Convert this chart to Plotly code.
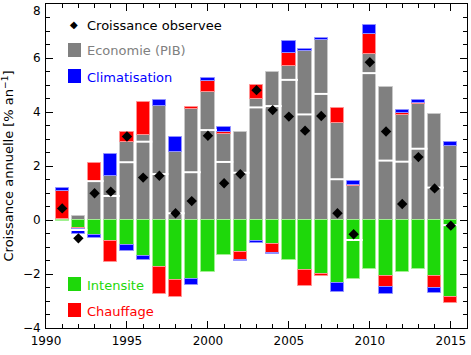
import plotly.graph_objects as go

years = list(range(1991, 2016))
economie = [0.05, 0.15, 1.42, 1.64, 2.90, 3.15, 4.22, 2.53, 4.11, 4.74, 3.19, 3.26, 4.47,
            5.48, 5.72, 6.26, 6.65, 3.59, 1.25, 6.15, 4.94, 3.89, 4.28, 3.91, 2.74]
intensite = [-0.02, -0.28, -0.56, -0.77, -0.93, -1.32, -1.75, -2.23, -2.19, -1.94, -1.31, -1.17, -0.79,
             -0.88, -1.47, -1.84, -2.00, -2.35, -2.20, -1.80, -2.06, -1.93, -1.83, -2.07, -2.85]
chauffage = [1.02, -0.06, 0.68, -0.80, 0.35, 1.21, -1.00, -0.61, 0.06, 0.41, 0.07, -0.30, 0.52,
             -0.35, 0.47, -0.60, -0.09, 0.57, 0.05, 0.74, -0.43, 0.06, 0.07, -0.45, -0.24]
climatisation = [0.13, -0.18, -0.12, 0.80, -0.21, -0.16, 0.22, 0.53, -0.21, 0.11, 0.20, -0.06, -0.05,
                 -0.04, 0.43, 0.07, 0.09, -0.30, 0.14, 0.33, -0.26, 0.12, 0.09, -0.20, 0.14]
observee = [0.43, -0.68, 0.99, 1.05, 3.09, 1.57, 1.64, 0.25, 0.70, 3.12, 1.36, 1.70, 4.81,
            4.07, 3.83, 3.31, 3.85, 0.25, -0.53, 5.84, 3.28, 0.59, 2.33, 1.17, -0.21]
ligne_blanche = [None, -0.37, 1.44, 0.89, 2.14, 2.90, 1.70, 0.25, 1.77, 3.33, 2.15, 1.75, 4.17,
                 4.22, 5.19, 3.91, 4.67, 1.51, -0.74, 5.44, 2.20, 2.16, 2.64, 1.20, -0.19]
y_top_label = "8"
y_max = 8

FONT = "DejaVu Sans"
GRAY = "#808080"
GREEN = "#1ed80a"
RED = "#ff0000"
BLUE = "#0000ff"
W = 0.82

fig = go.Figure()
fig.add_trace(go.Bar(x=years, y=economie, width=W, marker=dict(color=GRAY, line=dict(color="#c8c8c8", width=1)), name="Economie (PIB)"))
fig.add_trace(go.Bar(x=years, y=intensite, width=W, marker=dict(color=GREEN, line=dict(color="#a0f090", width=1)), name="Intensite"))
fig.add_trace(go.Bar(x=years, y=chauffage, width=W, marker=dict(color=RED, line=dict(color="#ff9090", width=1)), name="Chauffage"))
fig.add_trace(go.Bar(x=years, y=climatisation, width=W, marker=dict(color=BLUE, line=dict(color="#9090ff", width=1)), name="Climatisation"))
fig.add_trace(go.Scatter(x=years, y=ligne_blanche, mode="markers",
                         marker=dict(symbol="line-ew", size=13, line=dict(color="white", width=2)),
                         name="ligne"))
fig.add_trace(go.Scatter(x=years, y=observee, mode="markers",
                         marker=dict(symbol="diamond", size=8, color="black"),
                         name="Croissance observee"))

x0, y0, pw, ph = 46, 4, 421, 324
def px(x):
    return (x - x0) / pw
def py(y):
    return (y0 + ph - y) / ph

legend_items = [
    ("Croissance observee", "black", None, 25),
    ("Economie (PIB)", GRAY, GRAY, 50),
    ("Climatisation", BLUE, BLUE, 76),
    ("Intensite", GREEN, GREEN, 284),
    ("Chauffage", RED, RED, 310),
]
annotations = []
shapes = []
for text, tcol, scol, yc in legend_items:
    annotations.append(dict(x=px(85), y=py(yc + 1), xref="paper", yref="paper", text=text,
                            showarrow=False, xanchor="left", yanchor="middle",
                            font=dict(family=FONT, size=13, color=tcol)))
    if scol is None:
        annotations.append(dict(x=px(74), y=py(yc), xref="paper", yref="paper", text="◆",
                                showarrow=False, xanchor="center", yanchor="middle",
                                font=dict(family=FONT, size=10, color="black")))
    else:
        shapes.append(dict(type="rect", xref="paper", yref="paper",
                           x0=px(68), x1=px(81), y0=py(yc + 7), y1=py(yc - 7),
                           fillcolor=scol, line=dict(width=0)))

# top tick label, nudged inside the page as in the reference
annotations.append(dict(x=0, y=y_max, xref="paper", yref="y", text=y_top_label, showarrow=False,
                        xanchor="right", yanchor="top", xshift=-3, yshift=2,
                        font=dict(family=FONT, size=12, color="black")))

axis_common = dict(showline=True, linecolor="black", linewidth=1, mirror="allticks",
                   ticks="inside", tickcolor="black", showgrid=False, zeroline=False,
                   automargin=False,
                   tickfont=dict(family=FONT, size=12, color="black"))

fig.update_layout(
    width=471, height=355,
    margin=dict(l=x0, r=471 - x0 - pw, t=y0, b=355 - y0 - ph),
    paper_bgcolor="white", plot_bgcolor="white",
    barmode="relative", bargap=0,
    showlegend=False,
    annotations=annotations, shapes=shapes,
    xaxis=dict(range=[1990, 2016], tickmode="linear", tick0=1990, dtick=5, ticklen=7,
               ticklabelstandoff=2,
               minor=dict(dtick=1, ticks="inside", ticklen=4, tickcolor="black"),
               **axis_common),
    yaxis=dict(range=[-4, y_max], tickmode="linear", tick0=0, dtick=2, ticklen=7,
               ticklabelstandoff=2,
               minor=dict(dtick=0.5, ticks="inside", ticklen=4, tickcolor="black"),
               title=dict(text="Croissance annuelle [% an<sup>−1</sup>]", standoff=6,
                          font=dict(family=FONT, size=13, color="black")),
               **axis_common),
)

fig.write_html("out.html", config={"displayModeBar": False},
               post_script="document.body.style.margin='0px';document.body.style.overflow='hidden';")
